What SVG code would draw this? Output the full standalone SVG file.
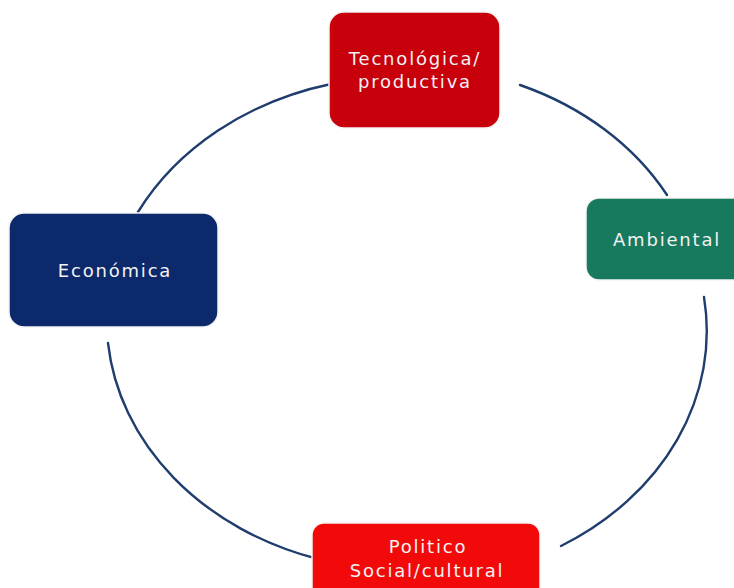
<svg xmlns="http://www.w3.org/2000/svg" width="734" height="588" viewBox="0 0 734 588">
<style>
.box{stroke:#f4f4f4;stroke-width:1.5}
.lbl{font-family:"DejaVu Sans","Liberation Sans",sans-serif;font-size:18px;letter-spacing:1.8px;fill:#f2f2f2;text-anchor:middle}
.arc{fill:none;stroke:#1f3d6d;stroke-width:2.4;stroke-linecap:round}
</style>
<rect width="734" height="588" fill="#ffffff"/>
<g id="connectors">
<path class="arc" d="M138,212 A298,250 0 0 1 331,84"/>
<path class="arc" d="M520,85 A298,250 0 0 1 667,195"/>
<path class="arc" d="M704,297 A298,250 0 0 1 561,546"/>
<path class="arc" d="M318,559 A298,250 0 0 1 108,343"/>
</g>
<g id="tecnologica">
<rect class="box" x="329" y="12" width="171" height="116" rx="15" fill="#c8000c"/>
<text class="lbl" x="415" y="65">Tecnológica/</text>
<text class="lbl" x="415" y="88">productiva</text>
</g>
<g id="ambiental">
<rect class="box" x="586" y="198" width="160" height="82" rx="13" fill="#177a5f"/>
<text class="lbl" x="667" y="246">Ambiental</text>
</g>
<g id="politico">
<rect class="box" x="312" y="523" width="228" height="80" rx="12" fill="#f20a0a"/>
<text class="lbl" x="428" y="553">Politico</text>
<text class="lbl" x="427" y="577">Social/cultural</text>
</g>
<g id="economica">
<rect class="box" x="9" y="213" width="209" height="114" rx="15" fill="#0c2a6b"/>
<text class="lbl" x="115" y="277">Económica</text>
</g>
</svg>
